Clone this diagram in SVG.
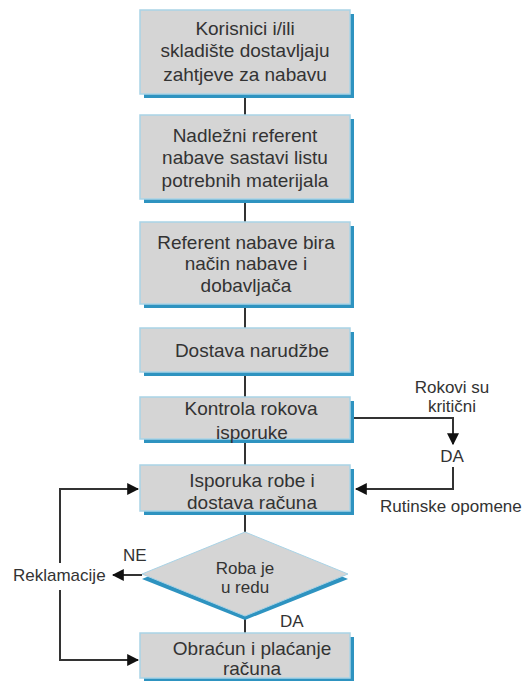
<svg xmlns="http://www.w3.org/2000/svg" width="522" height="681" viewBox="0 0 522 681">
<style>
.box{fill:#d5d5d5;stroke:#a9d3e6;stroke-width:1.5}
.sh{fill:#2e93c0}
.t{font-family:"Liberation Sans",Arial,sans-serif;font-size:19px;fill:#333;text-anchor:middle}
.s{font-family:"Liberation Sans",Arial,sans-serif;font-size:17px;fill:#333}
.c{fill:none;stroke:#333;stroke-width:2}
</style>
<defs>
<marker id="ah" viewBox="0 0 10 10" refX="9" refY="5" markerWidth="6" markerHeight="6" orient="auto" markerUnits="strokeWidth">
<path d="M0,0 L10,5 L0,10 z" fill="#111"/>
</marker>
</defs>
<rect width="522" height="681" fill="#fff"/>
<g id="connectors">
<line class="c" x1="245" y1="97" x2="245" y2="115"/>
<line class="c" x1="245" y1="202" x2="245" y2="222"/>
<line class="c" x1="245" y1="307" x2="245" y2="328"/>
<line class="c" x1="245" y1="375" x2="245" y2="397"/>
<line class="c" x1="245" y1="442" x2="245" y2="465"/>
<line class="c" x1="245" y1="514" x2="245" y2="532"/>
<line class="c" x1="245" y1="618" x2="245" y2="633"/>
<polyline class="c" points="353,418 453,418 453,444" marker-end="url(#ah)"/>
<polyline class="c" points="453,467 453,489 356,489" marker-end="url(#ah)"/>
<line class="c" x1="142" y1="575" x2="113" y2="575" marker-end="url(#ah)"/>
<polyline class="c" points="60,563 60,489 138,489" marker-end="url(#ah)"/>
<polyline class="c" points="60,590 60,660 138,660" marker-end="url(#ah)"/>
</g>
<g id="n1">
<rect class="sh" x="144" y="14" width="210" height="84"/>
<rect class="box" x="140" y="10" width="210" height="84"/>
<text class="t" x="245" y="35">Korisnici i/ili</text>
<text class="t" x="245" y="57">skladište dostavljaju</text>
<text class="t" x="245" y="81">zahtjeve za nabavu</text>
</g>
<g id="n2">
<rect class="sh" x="144" y="119" width="210" height="84"/>
<rect class="box" x="140" y="115" width="210" height="84"/>
<text class="t" x="245" y="142">Nadležni referent</text>
<text class="t" x="245" y="164">nabave sastavi listu</text>
<text class="t" x="245" y="187">potrebnih materijala</text>
</g>
<g id="n3">
<rect class="sh" x="144" y="226" width="210" height="82"/>
<rect class="box" x="140" y="222" width="210" height="82"/>
<text class="t" x="246" y="249">Referent nabave bira</text>
<text class="t" x="246" y="270">način nabave i</text>
<text class="t" x="246" y="292">dobavljača</text>
</g>
<g id="n4">
<rect class="sh" x="144" y="332" width="210" height="44"/>
<rect class="box" x="140" y="328" width="210" height="44"/>
<text class="t" x="252" y="357">Dostava narudžbe</text>
</g>
<g id="n5">
<rect class="sh" x="144" y="401" width="210" height="42"/>
<rect class="box" x="140" y="397" width="210" height="42"/>
<text class="t" x="251" y="415">Kontrola rokova</text>
<text class="t" x="252" y="439">isporuke</text>
</g>
<g id="n6">
<rect class="sh" x="144" y="469" width="210" height="46"/>
<rect class="box" x="140" y="465" width="210" height="46"/>
<text class="t" x="252" y="487">Isporuka robe i</text>
<text class="t" x="252" y="509">dostava računa</text>
</g>
<g id="n7">
<polygon class="sh" points="245,536 348,579 245,620 142,579"/>
<polygon points="245,532 348,574 245,616 142,574" fill="#d5d5d5" stroke="#a9d3e6" stroke-width="1"/>
<text class="s" x="245" y="574" text-anchor="middle">Roba je</text>
<text class="s" x="245" y="593" text-anchor="middle">u redu</text>
</g>
<g id="n8">
<rect class="sh" x="144" y="637" width="210" height="44"/>
<rect class="box" x="140" y="633" width="210" height="45"/>
<text class="t" x="252" y="655">Obraćun i plaćanje</text>
<text class="t" x="252" y="675">računa</text>
</g>
<g id="labels">
<text class="s" x="452" y="393" text-anchor="middle" font-size="15.5">Rokovi su</text>
<text class="s" x="452" y="412" text-anchor="middle" font-size="15.5">kritični</text>
<text class="s" x="452" y="462" text-anchor="middle">DA</text>
<text class="s" x="380" y="512">Rutinske opomene</text>
<text class="s" x="13" y="581">Reklamacije</text>
<text class="s" x="123" y="561">NE</text>
<text class="s" x="280" y="627">DA</text>
</g>
</svg>
